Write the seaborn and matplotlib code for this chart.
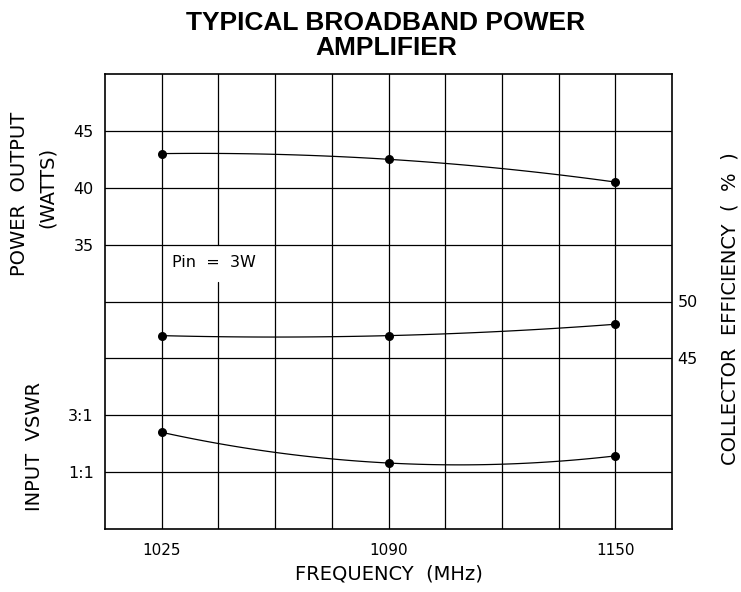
"""
plot.py
Typical broadband power amplifier curves on a square grid
"""
import matplotlib
matplotlib.use('Agg')
import matplotlib.pyplot as plt
import seaborn as sns
import pandas as pd

# DATA =================================
freq_labels = ['1025', '1090', '1150']
freq_pos = [1, 5, 9]            # grid column of each frequency
power_w = [43.0, 42.5, 40.5]
efficiency_pct = [47.0, 47.0, 48.0]
vswr = [2.4, 1.32, 1.57]

power_ticks = [35, 40, 45]
eff_ticks = [45, 50]
vswr_ticks = [1, 3]
vswr_tick_labels = ['1:1', '3:1']


# each band of the chart maps its own unit onto the shared grid rows
def power_row(v):
    return 5 + (v - 35) / 5.0


def eff_row(v):
    return 3 + (v - 45) / 5.0


def vswr_row(v):
    return 1 + (v - 1) / 2.0


df = pd.DataFrame({
    'pos': freq_pos * 3,
    'row': [power_row(v) for v in power_w]
    + [eff_row(v) for v in efficiency_pct]
    + [vswr_row(v) for v in vswr],
    'series': ['power'] * 3 + ['eff'] * 3 + ['vswr'] * 3,
})

sns.set_style('white')
plt.rcParams['font.family'] = ['DejaVu Sans']
for key in ['text.color', 'axes.labelcolor', 'xtick.color', 'ytick.color']:
    plt.rcParams[key] = 'black'

W, H = 741, 592
fig = plt.figure(figsize=(W / 100, H / 100), dpi=100)
ax = fig.add_axes([105 / W, (H - 529) / H, (672 - 105) / W, (529 - 74) / H])
ax.set_xlim(0, 10)
ax.set_ylim(0, 8)

# grid, with a gap in one column for the Pin note
for c in range(1, 10):
    if c == 2:
        ax.axvline(c, 0, 4.35 / 8, color='black', lw=0.9, zorder=1)
        ax.axvline(c, 5 / 8, 1, color='black', lw=0.9, zorder=1)
    else:
        ax.axvline(c, color='black', lw=0.9, zorder=1)
for r in range(1, 8):
    ax.axhline(r, color='black', lw=0.9, zorder=1)

for name, grp in df.groupby('series'):
    sns.regplot(data=grp, x='pos', y='row', order=2, ci=None, ax=ax,
                scatter_kws={'color': 'black', 's': 30, 'zorder': 3, 'alpha': 1},
                line_kws={'color': 'black', 'lw': 0.9, 'zorder': 2})

ax.text(1.19, 4.68, 'Pin  =  3W', fontsize=11.5, va='center', ha='left')

for s in ax.spines.values():
    s.set_visible(True)
    s.set_color('black')
    s.set_linewidth(1.2)

ax.set_xticks(freq_pos)
ax.set_xticklabels(freq_labels)
ax.set_yticks([vswr_row(v) for v in vswr_ticks] + [power_row(v) for v in power_ticks])
ax.set_yticklabels(vswr_tick_labels + [str(v) for v in power_ticks])
ax.tick_params(axis='y', length=0, labelsize=11.5, pad=8)
ax.tick_params(axis='x', length=0, labelsize=11, pad=10)
ax.set_xlabel('FREQUENCY  (MHz)', fontsize=14, labelpad=5)
ax.set_ylabel('')

ax2 = ax.twinx()
ax2.set_ylim(0, 8)
ax2.set_yticks([eff_row(v) for v in eff_ticks])
ax2.set_yticklabels([str(v) for v in eff_ticks])
ax2.tick_params(axis='y', length=0, labelsize=11.5, pad=4)
for s in ax2.spines.values():
    s.set_visible(False)

fig.text(20 / W, 1 - 194 / H, 'POWER  OUTPUT', rotation=90,
         ha='center', va='center', fontsize=14)
fig.text(47 / W, 1 - 187 / H, '(WATTS)', rotation=90,
         ha='center', va='center', fontsize=14)
fig.text(34.5 / W, 1 - 446 / H, 'INPUT  VSWR', rotation=90,
         ha='center', va='center', fontsize=14)
fig.text(729.5 / W, 1 - 309 / H, 'COLLECTOR  EFFICIENCY  (  %  )', rotation=90,
         ha='center', va='center', fontsize=14)
fig.text(386 / W, 1 - 22.5 / H, 'TYPICAL BROADBAND POWER',
         ha='center', va='center', fontsize=19, fontweight='bold',
         family=['Liberation Sans'])
fig.text(386 / W, 1 - 48 / H, 'AMPLIFIER',
         ha='center', va='center', fontsize=19, fontweight='bold',
         family=['Liberation Sans'])

fig.savefig('out.png', dpi=100)
